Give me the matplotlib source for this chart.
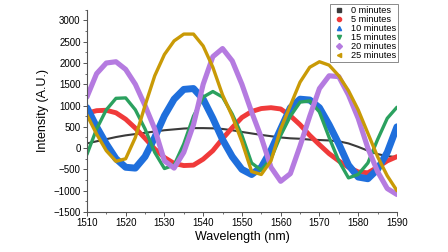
import numpy as np
import matplotlib
matplotlib.use('Agg')
from matplotlib import pyplot as plt
from matplotlib.lines import Line2D
from matplotlib.ticker import MultipleLocator

plt.rcParams['font.family'] = ['Liberation Sans', 'DejaVu Sans']

# wavelength grid (nm)
wavelength = [1510, 1512.5, 1515, 1517.5, 1520, 1522.5, 1525, 1527.5, 1530, 1532.5,
              1535, 1537.5, 1540, 1542.5, 1545, 1547.5, 1550, 1552.5, 1555, 1557.5,
              1560, 1562.5, 1565, 1567.5, 1570, 1572.5, 1575, 1577.5, 1580, 1582.5,
              1585, 1587.5, 1590]

min0 = [110, 160, 210, 260, 300, 330, 360, 390, 420, 440,
        460, 470, 470, 465, 450, 420, 380, 345, 310, 280,
        250, 230, 220, 200, 190, 180, 160, 110, 30, -60,
        -140, -190, -210]
min5 = [820, 880, 890, 830, 680, 470, 230, -20, -220, -360,
        -410, -400, -260, -60, 220, 480, 720, 860, 930, 950,
        920, 760, 550, 300, 80, -130, -300, -450, -560, -580,
        -450, -300, -200]
min10 = [950, 500, 100, -250, -450, -470, -200, 250, 760, 1150,
         1380, 1400, 1150, 700, 200, -200, -500, -620, -450, -50,
         450, 950, 1150, 1130, 950, 550, 100, -400, -680, -720,
         -500, -100, 500]
min15 = [-150, 450, 900, 1170, 1180, 900, 450, -100, -480, -400,
         100, 750, 1200, 1330, 1200, 800, 300, -350, -520, -250,
         300, 750, 1080, 1110, 850, 250, -300, -700, -620, -350,
         200, 700, 960]
min20 = [1200, 1750, 2000, 2030, 1850, 1500, 1000, 450, -300, -470,
         -100, 550, 1500, 2150, 2340, 2050, 1500, 850, 250, -450,
         -780, -600, 50, 750, 1400, 1700, 1680, 1250, 700, 0,
         -550, -950, -1090]
min25 = [780, 330, -60, -310, -250, 250, 1000, 1700, 2200, 2520,
         2680, 2680, 2400, 1900, 1250, 750, 150, -550, -620, -300,
         450, 1000, 1550, 1900, 2030, 1950, 1700, 1350, 900, 350,
         -200, -650, -1000]

labels = ['0 minutes', '5 minutes', '10 minutes', '15 minutes', '20 minutes', '25 minutes']
series = [min0, min5, min10, min15, min20, min25]
colors = ['#3a3a3a', '#f03a3a', '#1f6fdc', '#2ba15f', '#b57be0', '#c99a06']
markers = ['s', 'o', '^', 'v', 'D', '<']
widths = [1.5, 3.5, 5.0, 2.4, 3.7, 2.4]

fig = plt.figure(figsize=(4.48, 2.52), dpi=100)
ax = fig.add_axes([0.194, 0.159, 0.692, 0.802])

for y, c, w in zip(series, colors, widths):
    ax.plot(wavelength, y, color=c, lw=w, solid_capstyle='round', solid_joinstyle='round')

ax.set_xlim(1510, 1590)
ax.set_ylim(-1500, 3250)
ax.set_yticks(np.arange(-1500, 3001, 500))
ax.set_xticks(np.arange(1510, 1591, 10))
ax.xaxis.set_minor_locator(MultipleLocator(5))
ax.yaxis.set_minor_locator(MultipleLocator(250))
ax.spines['top'].set_visible(False)
ax.spines['right'].set_visible(False)
for s in ['left', 'bottom']:
    ax.spines[s].set_color('#555555')
    ax.spines[s].set_linewidth(0.8)
ax.tick_params(which='major', length=3, width=0.7, color='#555555', labelsize=7, pad=1.5)
ax.tick_params(which='minor', length=1.5, width=0.6, color='#555555')
ax.set_xlabel('Wavelength (nm)', fontsize=9, labelpad=2)
ax.set_ylabel('Intensity (A.U.)', fontsize=9, labelpad=3)

handles = [Line2D([], [], ls='none', marker=m, color=c, markersize=3)
           for m, c in zip(markers, colors)]
leg = ax.legend(handles, labels, loc='upper right', bbox_to_anchor=(1.005, 1.03),
                fontsize=6.6, frameon=True, fancybox=False, borderpad=0.25,
                labelspacing=0.0, handletextpad=0.6, handlelength=1.4,
                borderaxespad=0)
leg.get_frame().set_edgecolor('#555555')
leg.get_frame().set_linewidth(0.6)

fig.savefig('out.png', dpi=100)
